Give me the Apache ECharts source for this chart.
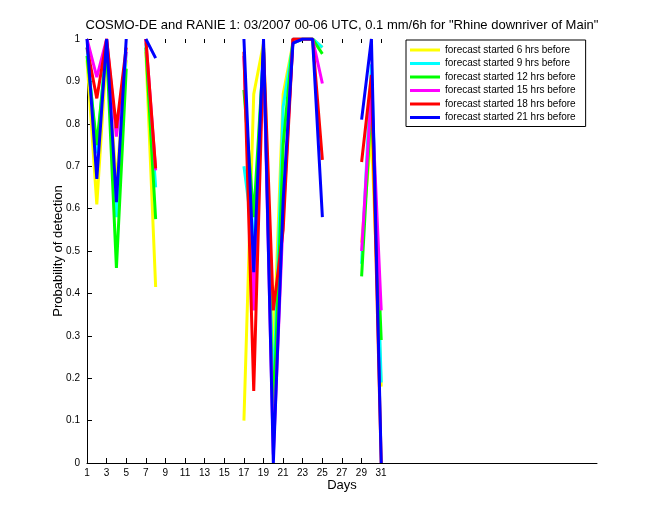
<!DOCTYPE html>
<html>
<head>
<meta charset="utf-8">
<script src="https://cdn.jsdelivr.net/npm/echarts@6/dist/echarts.min.js"></script>
<style>html,body{margin:0;padding:0;background:#fff;}#c{width:660px;height:520px;}</style>
</head>
<body>
<div id="c"></div>
<script>
var days = [];
for (var d = 1; d <= 31; d++) days.push(d);
var xTickLabels = ['1','3','5','7','9','11','13','15','17','19','21','23','25','27','29','31'];
var seriesNames = ['forecast started 6 hrs before','forecast started 9 hrs before','forecast started 12 hrs before','forecast started 15 hrs before','forecast started 18 hrs before','forecast started 21 hrs before'];
var N = null;
// values per day 1..31 (null = no data)
var v6h  = [0.95,0.61,0.97,0.66,0.95,N,0.97,0.415,N,N,N,N,N,N,N,N,0.10,0.87,0.99,0.25,0.87,0.99,1.0,1.0,0.98,N,N,N,0.52,0.78,0.18];
var v9h  = [0.98,0.73,1.0,0.58,0.97,N,0.99,0.65,N,N,N,N,N,N,N,N,0.70,0.52,0.98,0.15,0.84,0.99,1.0,1.0,0.98,N,N,N,0.47,0.94,0.19];
var v12h = [0.96,0.75,0.98,0.46,0.93,N,0.98,0.575,N,N,N,N,N,N,N,N,0.88,0.58,0.97,0.10,0.75,1.0,1.0,1.0,0.965,N,N,N,0.44,0.86,0.29];
var v15h = [1.0,0.91,1.0,0.77,0.97,N,1.0,0.69,N,N,N,N,N,N,N,N,0.96,0.36,0.97,0.02,0.58,1.0,1.0,1.0,0.895,N,N,N,0.50,0.88,0.36];
var v18h = [0.98,0.86,1.0,0.79,0.98,N,1.0,0.695,N,N,N,N,N,N,N,N,0.97,0.17,0.98,0.36,0.55,1.0,1.0,1.0,0.715,N,N,N,0.71,0.915,0.0];
var v21h = [1.0,0.67,1.0,0.615,1.0,N,1.0,0.955,N,N,N,N,N,N,N,N,1.0,0.45,1.0,0.0,0.62,0.99,1.0,1.0,0.58,N,N,N,0.81,1.0,0.0];
var allValues = [v6h, v9h, v12h, v15h, v18h, v21h];
var colors = ['#ffff00','#00ffff','#00ff00','#ff00ff','#ff0000','#0000ff'];

var FONT = 'Liberation Sans';
var series = allValues.map(function (vals, i) {
  return {
    name: seriesNames[i],
    type: 'line',
    xAxisIndex: 0, yAxisIndex: 0,
    data: days.map(function (dd, k) { return [dd, vals[k]]; }),
    showSymbol: false,
    connectNulls: false,
    lineStyle: { color: colors[i], width: 3 },
    itemStyle: { color: colors[i] },
    animation: false
  };
});

var chart = echarts.init(document.getElementById('c'));
chart.setOption({
  backgroundColor: '#fff',
  animation: false,
  textStyle: { fontFamily: FONT },
  graphic: [{
    type: 'text', x: 342, y: 19,
    style: { text: 'COSMO-DE and RANIE 1: 03/2007 00-06 UTC, 0.1 mm/6h for "Rhine downriver of Main"',
      fontFamily: FONT, fontSize: 13, fill: '#000', align: 'center', verticalAlign: 'top' }
  }],
  legend: {
    data: seriesNames,
    orient: 'vertical',
    left: 406, top: 40,
    padding: [4, 10, 3, 4],
    itemWidth: 30, itemHeight: 3,
    itemGap: 1.5,
    icon: 'rect',
    borderColor: '#000', borderWidth: 1,
    backgroundColor: '#fff',
    textStyle: { fontFamily: FONT, fontSize: 10, color: '#000', lineHeight: 12 },
    selectedMode: false
  },
  grid: [
    { left: 87, right: 63, top: 39, bottom: 57 },
    { left: 87, width: 294, top: 39, bottom: 57 }
  ],
  xAxis: [
    { type: 'value', gridIndex: 0, min: 1, max: 53, name: 'Days', nameLocation: 'middle', nameGap: 16,
      nameTextStyle: { fontFamily: FONT, fontSize: 13, color: '#000' },
      axisLine: { show: true, lineStyle: { color: '#000', width: 1 } },
      axisTick: { show: false }, axisLabel: { show: false }, splitLine: { show: false } },
    { type: 'value', gridIndex: 1, min: 1, max: 31, interval: 2,
      axisLine: { show: false },
      axisTick: { show: true, inside: true, length: 5, lineStyle: { color: '#000' } },
      axisLabel: { show: true, margin: 5, fontFamily: FONT, fontSize: 10, color: '#000',
        formatter: function (v) { return xTickLabels.indexOf(String(v)) >= 0 ? String(v) : ''; } },
      splitLine: { show: false } },
    { type: 'value', gridIndex: 1, position: 'top', min: 1, max: 31, interval: 2,
      axisLine: { show: false },
      axisTick: { show: true, inside: true, length: 4, lineStyle: { color: '#000' } },
      axisLabel: { show: false }, splitLine: { show: false } }
  ],
  yAxis: [
    { type: 'value', gridIndex: 0, min: 0, max: 1, interval: 0.1,
      name: 'Probability of detection', nameLocation: 'middle', nameGap: 22, nameMoveOverlap: false,
      nameTextStyle: { fontFamily: FONT, fontSize: 13, color: '#000' },
      axisLine: { show: true, lineStyle: { color: '#000', width: 1 } },
      axisTick: { show: true, inside: true, length: 5, lineStyle: { color: '#000' } },
      axisLabel: { margin: 7, fontFamily: FONT, fontSize: 10, color: '#000' },
      splitLine: { show: false } },
    { type: 'value', gridIndex: 1, min: 0, max: 1, show: false }
  ],
  series: series
});
</script>
</body>
</html>
